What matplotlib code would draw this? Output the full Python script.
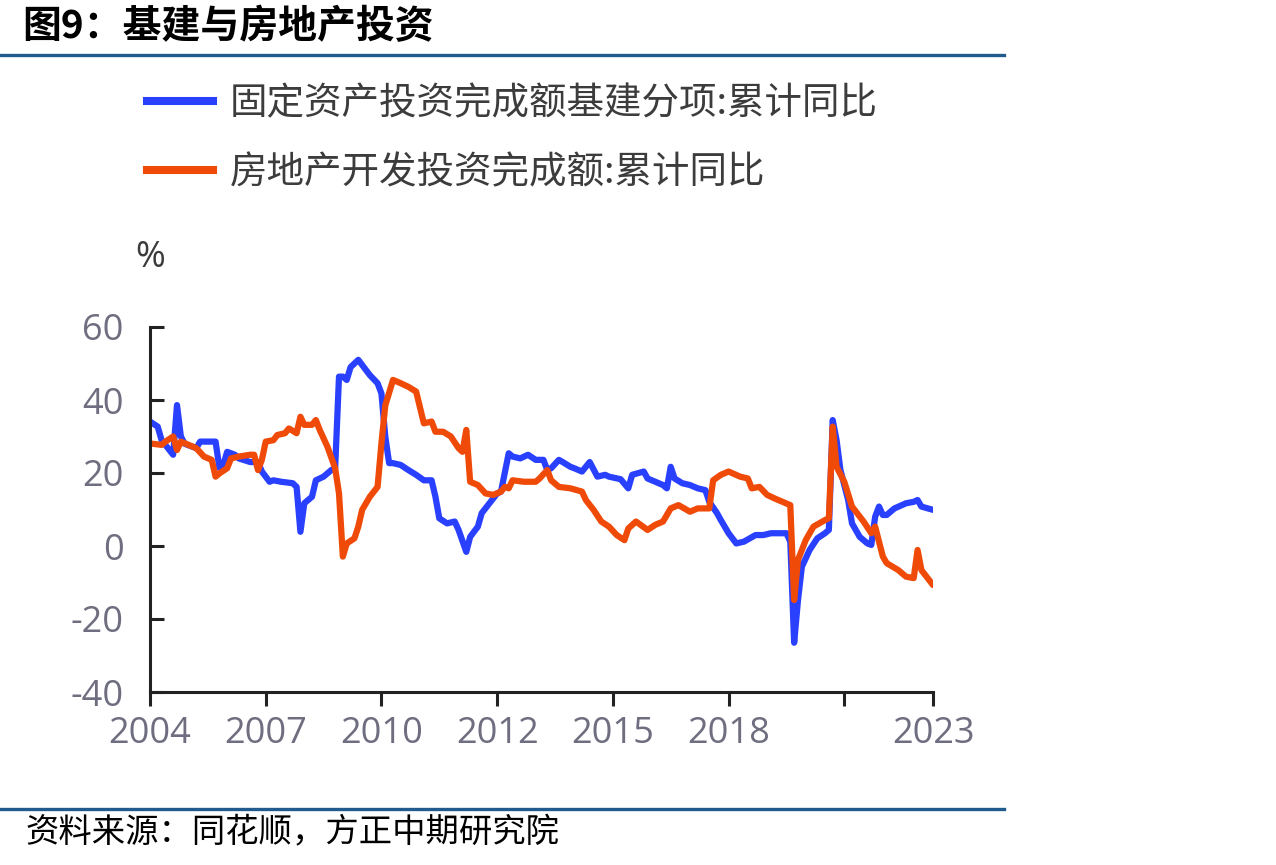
import matplotlib
matplotlib.use("Agg")
import matplotlib.pyplot as plt
from matplotlib.lines import Line2D

plt.rcParams['font.family'] = ['Noto Sans CJK SC', 'DejaVu Sans']

# month index (0 = 2004 start), %
blue_x = [0, 2, 3, 6, 7, 8, 9, 12, 13, 17,
          18, 19, 20, 22, 23, 26, 28, 29, 31, 32,
          34, 37, 38, 39, 40, 42, 43, 45, 47, 48,
          49, 50, 51, 52, 54, 55, 57, 59, 60, 61,
          62, 63, 65, 67, 69, 71, 73, 74, 75, 77,
          79, 80, 82, 83, 85, 86, 88, 90, 91, 93,
          94, 96, 98, 100, 102, 103, 104, 106, 107, 109,
          110, 112, 114, 116, 118, 119, 122, 124, 125, 128,
          129, 133, 134, 135, 136, 138, 140, 142, 144, 145,
          147, 148, 150, 152, 154, 157, 159, 161, 165, 166,
          167, 168, 169, 171, 173, 175, 176, 177, 178, 179,
          181, 182, 184, 186, 187, 188, 189, 190, 191, 193,
          196, 198, 199, 200, 203]
blue_y = [34.1, 32.7, 29, 25, 38.6, 30, 28, 26.8, 28.6, 28.6,
          21.4, 22.2, 25.8, 25, 24, 23, 23, 20.4, 17.6, 18,
          17.6, 17.2, 16.2, 3.9, 11.7, 13.5, 18, 19, 20.8, 21.3,
          46.4, 46.4, 45.5, 49, 51, 49.6, 46.8, 44.6, 41.8, 30,
          22.7, 22.7, 22.2, 20.8, 19.5, 18, 18, 13.5, 7.6, 6.2,
          6.7, 4.4, -1.6, 2.5, 5.3, 9, 11.7, 14.4, 14.9, 25.4,
          24.5, 24, 25, 23.6, 23.6, 20.8, 21.3, 23.6, 23, 21.7,
          21.3, 20.4, 23, 19, 19.5, 19, 18.3, 15.8, 19.5, 20.4,
          18.5, 16.7, 15.8, 21.7, 18.5, 17.2, 16.7, 15.8, 15.3, 12.1,
          9, 7.1, 3.5, 0.7, 1.2, 3, 3, 3.5, 3.5, 1.2,
          -26.5, -14.8, -5.7, -1.1, 2.1, 3.5, 4.4, 34.5, 29, 20.8,
          12.6, 6.2, 2.5, 0.7, 0.3, 8, 10.8, 8.5, 8.5, 10.3,
          11.7, 12.1, 12.6, 10.8, 9.9]

orange_x = [0, 3, 4, 6, 7, 8, 10, 12, 14, 16,
            17, 18, 20, 21, 23, 26, 27, 28, 29, 30,
            32, 33, 35, 36, 38, 39, 40, 42, 43, 44,
            46, 48, 49, 50, 51, 53, 54, 55, 57, 59,
            60, 61, 63, 65, 67, 69, 71, 73, 74, 76,
            78, 80, 81, 82, 83, 85, 87, 89, 91, 92,
            93, 94, 97, 100, 101, 103, 104, 106, 109, 112,
            113, 115, 117, 119, 121, 123, 124, 126, 129, 131,
            133, 135, 137, 140, 142, 145, 146, 148, 150, 153,
            155, 156, 158, 160, 162, 164, 166, 167, 168, 170,
            172, 175, 176, 177, 178, 180, 182, 185, 187, 188,
            190, 191, 194, 196, 198, 199, 200, 203]
orange_y = [28.1, 27.7, 28.6, 30, 26.3, 28.6, 27.7, 26.8, 24.5, 23.6,
            19, 19.9, 21.3, 24, 24.5, 25, 25, 20.8, 23.6, 28.6,
            29, 30.4, 30.9, 32.2, 30.9, 35.4, 33.2, 33.2, 34.5, 31.8,
            27.2, 21.3, 14.4, -2.9, 0.7, 2.1, 5.3, 9.9, 13.5, 16.2,
            28.1, 38.5, 45.5, 44.6, 43.6, 42.3, 33.6, 34.1, 31.3, 31.3,
            30, 26.8, 25.8, 31.8, 17.6, 16.7, 14.4, 14, 14.9, 16.2,
            15.8, 18, 17.6, 17.6, 18.5, 20.8, 18, 16.2, 15.8, 14.9,
            12.6, 9.9, 6.7, 5.3, 3, 1.6, 4.8, 6.7, 4.4, 5.8,
            6.7, 10.3, 11.2, 9.4, 10.3, 10.3, 18, 19.5, 20.4, 19,
            18.5, 15.8, 16.2, 14, 13, 12.1, 11.2, -14.8, -3.8, 1.6,
            5.3, 7.1, 7.6, 32.7, 21.7, 17.6, 10.8, 6.7, 3.5, 5.3,
            -2.9, -4.7, -6.6, -8.4, -8.8, -1.1, -6.6, -10.7]

tick_pos = [0, 30, 60, 90, 120, 150, 180, 203]
tick_labels = ['2004', '2007', '2010', '2012', '2015', '2018', '', '2023']
y_ticks = [-40, -20, 0, 20, 40, 60]

series_names = ['固定资产投资完成额基建分项:累计同比', '房地产开发投资完成额:累计同比']
blue = '#2A40FF'
orange = '#F04A08'
grey = '#6E6E80'
dark = '#3C3C3C'

fig = plt.figure(figsize=(12.76, 8.65), dpi=100)
ax = fig.add_axes([150/1276, 173/865, 783/1276, 365/865])

ax.plot(blue_x, blue_y, color=blue, lw=4.5, solid_joinstyle='round', solid_capstyle='round')
ax.plot(orange_x, orange_y, color=orange, lw=4.5, solid_joinstyle='round', solid_capstyle='round')

ax.set_xlim(0, 203)
ax.set_ylim(-40, 60)
ax.set_xticks(tick_pos)
ax.set_xticklabels(tick_labels, fontfamily='Open Sans')
ax.set_yticks(y_ticks)
ax.set_yticklabels([str(v) for v in y_ticks], fontfamily='Open Sans')

for s in ['top', 'right']:
    ax.spines[s].set_visible(False)
for s in ['left', 'bottom']:
    ax.spines[s].set_linewidth(2.2)
    ax.spines[s].set_color('#222222')
ax.tick_params(axis='y', direction='in', length=10, width=2.2, color='#222222',
               pad=19, labelsize=26, labelcolor=grey)
ax.tick_params(axis='x', direction='out', length=10, width=2.2, color='#222222',
               pad=7, labelsize=26, labelcolor=grey)

# legend
handles = [Line2D([], [], color=blue, lw=5.8), Line2D([], [], color=orange, lw=5.8)]
fig.legend(handles, series_names, loc='upper left', bbox_to_anchor=(147/1276, 1-84/865),
           frameon=False, fontsize=27, labelcolor=dark, handlelength=1.75,
           handletextpad=0.45, labelspacing=0.8, borderpad=0, borderaxespad=0)

fig.text(150/1276, 1-258/865, '%', fontsize=26, color=dark, ha='center', va='center',
         fontfamily='Open Sans')

# title, rules and source
fig.text(22/1276, 1-27/865, '图9：基建与房地产投资', fontsize=28, fontweight='bold',
         color='black', ha='left', va='center')
fig.add_artist(Line2D([0, 1004/1276], [1-55/865, 1-55/865], color='#1F5B8C', lw=2.4))
fig.add_artist(Line2D([0, 1004/1276], [1-809/865, 1-809/865], color='#1F5B8C', lw=2.4))
fig.text(25/1276, 1-833/865, '资料来源：同花顺，方正中期研究院', fontsize=24,
         style='italic', color='black', ha='left', va='center')

fig.savefig('out.png', dpi=100)
